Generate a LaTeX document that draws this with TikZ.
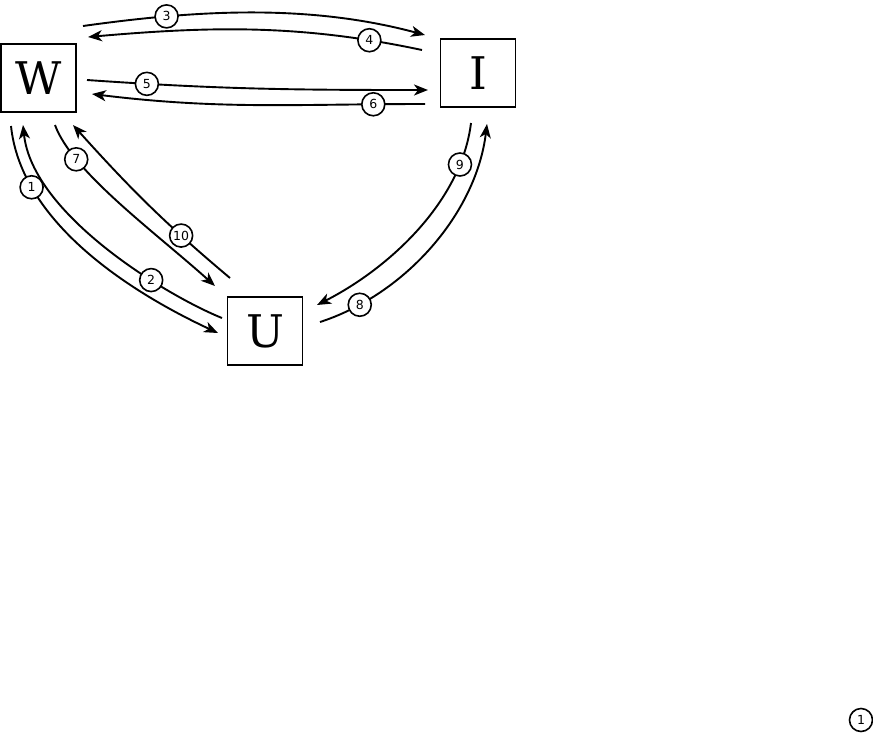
\documentclass[tikz,border=0pt]{standalone}
\usepackage{fontspec}
\setmainfont{DejaVu Sans}
\newfontfamily\boxfont{DejaVu Serif}
\usetikzlibrary{arrows.meta}

\begin{document}
\begin{tikzpicture}[x=1pt, y=1pt, line width=1.9pt,
      box/.style={draw, minimum width=75pt, minimum height=68pt, inner sep=0pt,
                  font=\boxfont\fontsize{45}{45}\selectfont},
      num/.style={draw, circle, fill=white, minimum size=23pt, inner sep=0pt,
                  line width=1.6pt, font=\fontsize{12.5}{12.5}\selectfont},
      link/.style={-{Stealth[length=14pt, width=11pt, inset=4pt]}}]
    \useasboundingbox (0,0) rectangle (873,-732);
    % the three boxes
    \node[box] (W) at (38.5,-78) {W};
    \node[box] (I) at (478,-73) {I};
    \node[box] (U) at (265,-331) {U};
    % ends of the connectors
    \coordinate (w3) at (83,-26);   \coordinate (i3) at (425,-35);
    \coordinate (i4) at (422,-50);  \coordinate (w4) at (88,-37);
    \coordinate (w5) at (87,-80);   \coordinate (i5) at (428,-90);
    \coordinate (i6) at (425,-104); \coordinate (w6) at (92,-94);
    \coordinate (w1) at (11,-126);  \coordinate (u1) at (218,-333);
    \coordinate (u2) at (222,-318); \coordinate (w2) at (23,-125);
    \coordinate (w7) at (55,-125);  \coordinate (u7) at (215,-286);
    \coordinate (u10) at (230,-278); \coordinate (w10) at (73,-125);
    \coordinate (i9) at (471,-123); \coordinate (u9) at (317,-305);
    \coordinate (u8) at (320,-322); \coordinate (i8) at (487,-124);
    % W -- I
    \draw[link] (w3) to[out=8, in=165, distance=119] node[num, pos=0.24] (n3) {3} (i3);
    \draw[link] (i4) to[out=168, in=5, distance=124] node[num, pos=0.15] (n4) {4} (w4);
    \draw[link] (w5) to[out=-4, in=180] node[num, pos=0.16] (n5) {5} (i5);
    \draw[link] (i6) to[out=180, in=-7] node[num, pos=0.14] (n6) {6} (w6);
    % W -- U
    \draw[link] (w1) to[out=-84, in=155, out distance=100, in distance=90]
      node[num, pos=0.22] (n1) {1} (u1);
    \draw[link] (u2) to[out=158, in=-84, out distance=60, in distance=90]
      node[num, pos=0.32] (n2) {2} (w2);
    \draw[link] (w7) to[out=-70, in=138, out distance=50, in distance=80]
      node[num, pos=0.23] (n7) {7} (u7);
    \draw[link] (u10) to[out=140, in=-48] node[num, pos=0.28] (n10) {10} (w10);
    % I -- U
    \draw[link] (i9) to[out=-97, in=27, distance=80] node[num, pos=0.18] (n9) {9} (u9);
    \draw[link] (u8) to[out=18, in=-97, distance=90] node[num, pos=0.16] (n8) {8} (i8);
    % loose mark in the corner
    \node[num] (n1b) at (861,-720) {1};
  \end{tikzpicture}
\end{document}
